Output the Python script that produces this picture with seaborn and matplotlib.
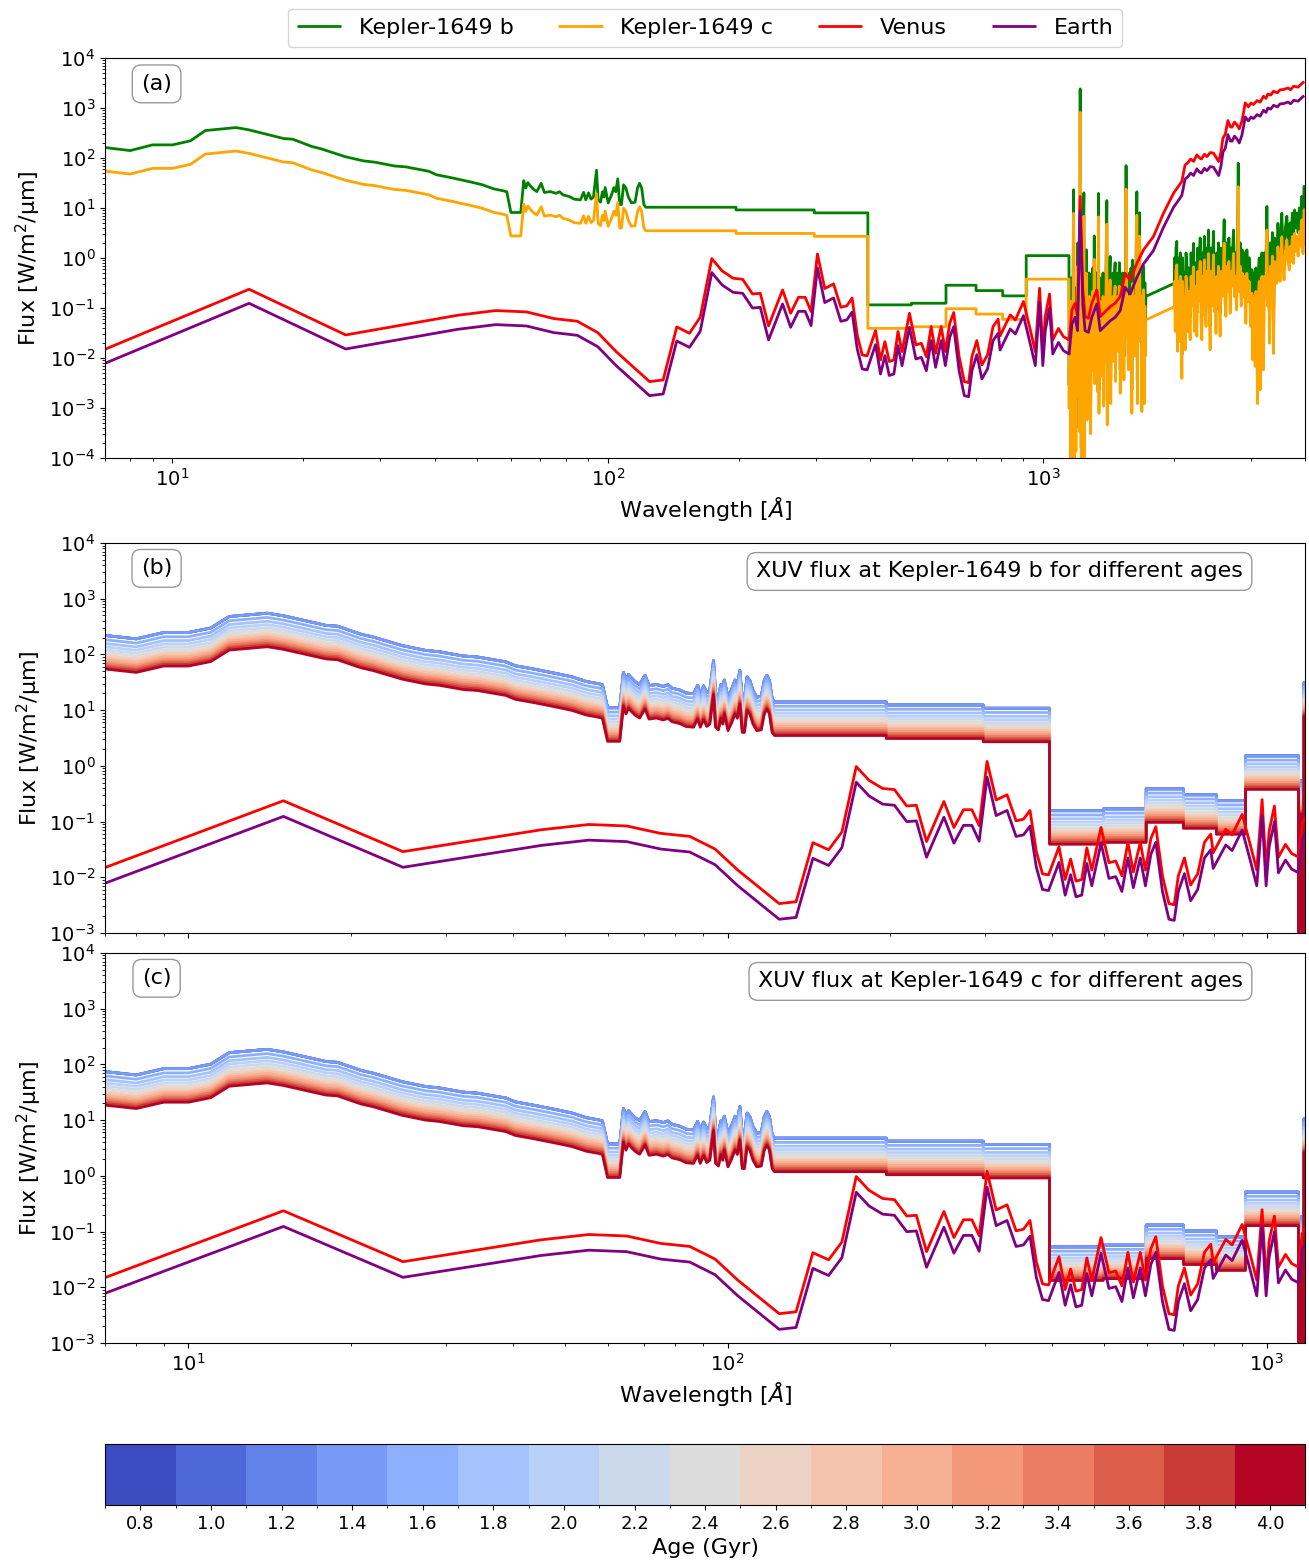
import numpy as np
import pandas as pd
import matplotlib
matplotlib.use("Agg")
import matplotlib.pyplot as plt
import seaborn as sns
from matplotlib.colors import ListedColormap, BoundaryNorm
from matplotlib.cm import ScalarMappable
from matplotlib.ticker import LogLocator, NullFormatter

# ---- data (wavelength in Angstrom, flux in W/m^2/um) ----
# Kepler-1649 b spectrum, split in pieces
kep_wl_soft = [
    7.0, 8.0, 9.0, 10.0, 11.0, 11.9, 14.0, 15.0,
    18.0, 18.9, 20.9, 22.0, 24.9, 27.5, 29.2, 32.3,
    34.4, 38.8, 40.4, 43.8, 48.4, 51.5, 54.7, 57.5,
    58.6, 59.9, 63.1, 64.1, 64.8, 65.5, 66.4, 67.5,
    68.7, 70.3, 71.5, 73.8, 76.0, 77.5, 78.9, 81.5,
    83.8, 86.5, 88.0, 89.0, 90.3, 91.5, 92.7, 94.2,
    95.0, 96.2, 97.2, 98.0, 98.6, 100.2, 101.8, 103.3,
    104.3, 105.4, 106.5, 107.5, 108.7, 110.0, 111.5, 113.3,
    115.5, 117.0, 118.3, 119.6, 121.0, 122.2]
kep_flux_soft = [
    161, 140, 182, 182, 219, 352, 404, 363,
    244, 236, 169, 151, 106, 87, 82, 69,
    66, 54, 46, 40, 33, 29, 24, 22,
    21, 8.1, 8.1, 35, 25, 32, 27.5, 23.6,
    21.2, 31, 20.3, 21.2, 19.6, 21, 18.2, 16.9,
    14.9, 14.5, 20.5, 14.5, 20, 15, 16.5, 56.6,
    14.5, 13, 21, 16.5, 25.5, 12.6, 17.5, 25.5,
    21, 38, 11.7, 11.7, 29, 25, 16.5, 12.6,
    13, 25, 31, 25, 11.7, 10.3]

kep_wl_euv = [197.0, 197.0, 298.0, 298.0, 395.6, 395.6, 498.0, 498.0, 598.0,
              598.0, 701.0, 701.0, 807.0, 807.0, 914.0, 914.0, 1146.0]
kep_flux_euv = [10.3, 9.1, 9.1, 7.95, 7.95, 0.115, 0.115, 0.124, 0.124,
                0.284, 0.284, 0.222, 0.222, 0.174, 0.174, 1.11, 1.11]

kep_wl_fuv = [
    1147, 1150, 1153, 1157, 1160, 1164, 1167, 1171, 1174, 1177,
    1181, 1185, 1189, 1193, 1197, 1201, 1205, 1209, 1213, 1216,
    1219, 1223, 1227, 1231, 1235, 1240, 1244, 1248, 1252, 1256,
    1261, 1265, 1270, 1275, 1280, 1285, 1290, 1295, 1300, 1305,
    1310, 1313, 1318, 1323, 1328, 1334, 1340, 1343, 1349, 1355,
    1361, 1367, 1372, 1376, 1382, 1388, 1394, 1400, 1403, 1409,
    1415, 1420, 1425, 1429, 1435, 1441, 1447, 1453, 1458, 1463,
    1466, 1472, 1478, 1484, 1490, 1496, 1503, 1509, 1515, 1521,
    1527, 1533, 1540, 1545, 1550, 1555, 1562, 1570, 1577, 1584,
    1591, 1598, 1604, 1611, 1618, 1625, 1632, 1641, 1645, 1652,
    1658, 1664, 1670, 1677, 1685, 1692, 1700, 1706, 1712, 1717,
    1721, 2000]
kep_flux_fuv = [
    2.9e-3, 0.25, 0.063, 2.0e-4, 0.40, 0.01, 2.0e-4, 0.2, 23, 0.1,
    1.6e-4, 0.25, 4e-4, 0.13, 5e-3, 2.0, 0.025, 0.32, 1e-3, 2400,
    0.5, 1.6e-4, 0.32, 0.016, 3.2, 20, 2.5e-4, 0.25, 0.0126, 1.45,
    1.7e-3, 0.4, 0.032, 0.5, 5e-3, 9e-4, 0.32, 0.05, 0.63, 0.016,
    2.75, 9e-3, 0.32, 0.04, 0.5, 6.3e-3, 19.5, 2.3e-3, 0.4, 0.032,
    0.25, 0.0126, 0.5, 3.2e-3, 0.32, 0.025, 0.63, 14, 1.35e-3, 0.4,
    0.05, 0.5, 1.07, 3.6e-3, 0.4, 0.063, 0.5, 0.025, 0.5, 0.8,
    0.01, 0.4, 0.063, 0.5, 0.04, 0.8, 5.8e-3, 0.4, 0.08, 0.5,
    0.032, 0.0107, 0.5, 0.1, 70, 0.32, 0.063, 0.017, 0.5, 0.1,
    0.63, 2.3e-3, 0.9, 0.08, 0.5, 0.032, 0.4, 21, 3.6e-3, 0.5,
    0.063, 8, 0.1, 0.5, 2.5e-3, 0.4, 0.68, 3.6e-3, 0.32, 0.032,
    0.17, 0.31]

kep_wl_nuv = [
    2004, 2010, 2018, 2027, 2034, 2042, 2050, 2058, 2066, 2074,
    2082, 2090, 2100, 2110, 2119, 2128, 2138, 2147, 2157, 2166,
    2176, 2186, 2195, 2205, 2214, 2224, 2234, 2244, 2254, 2264,
    2274, 2284, 2294, 2304, 2314, 2324, 2334, 2345, 2355, 2366,
    2376, 2387, 2397, 2408, 2418, 2430, 2440, 2450, 2461, 2472,
    2483, 2494, 2505, 2516, 2527, 2538, 2549, 2560, 2575, 2590,
    2604, 2615, 2628, 2641, 2655, 2670, 2688, 2700, 2715, 2736,
    2750, 2765, 2780, 2795, 2805, 2815, 2834, 2850, 2865, 2880,
    2900, 2920, 2936, 2955, 2975, 2995, 3015, 3030, 3050, 3068,
    3080, 3095, 3106, 3120, 3135, 3150, 3165, 3180, 3195, 3206,
    3220, 3240, 3255, 3264, 3280, 3295, 3309, 3325, 3345, 3360,
    3380, 3400, 3420, 3440, 3460, 3480, 3500, 3532, 3550, 3575,
    3600, 3627, 3650, 3675, 3691, 3710, 3735, 3757, 3780, 3800,
    3824, 3850, 3875, 3900, 3926, 3950, 3975, 3990, 4000]
kep_flux_nuv = [
    1.0, 0.1, 1.58, 2.14, 0.04, 1.0, 0.16, 0.063, 1.26, 0.25,
    0.0115, 1.0, 0.1, 0.5, 0.043, 1.26, 0.78, 0.1, 0.63, 0.126,
    0.068, 1.26, 0.32, 0.63, 1.95, 0.1, 0.8, 0.2, 0.08, 1.58,
    0.4, 1.0, 2.5, 0.16, 0.068, 1.26, 0.5, 2.7, 0.25, 0.126,
    1.58, 0.5, 3.6, 0.2, 0.043, 1.58, 0.32, 1.0, 3.4, 0.25,
    0.5, 0.091, 1.26, 0.4, 2.0, 0.32, 0.08, 1.58, 0.5, 1.26,
    5.8, 0.4, 0.2, 2.0, 0.63, 2.5, 0.23, 1.58, 0.8, 3.6,
    0.5, 1.26, 0.27, 1.58, 78, 0.63, 2.0, 0.32, 1.45, 0.5,
    1.26, 0.145, 1.45, 0.4, 1.0, 0.126, 0.58, 0.027, 0.5, 0.02,
    0.63, 0.063, 0.0036, 0.5, 1.0, 0.0068, 0.63, 1.26, 0.1, 0.017,
    1.26, 0.5, 2.0, 10.7, 0.32, 1.0, 0.058, 2.0, 0.5, 3.2,
    0.036, 2.5, 1.26, 0.91, 4.9, 2.0, 1.0, 7.8, 2.0, 1.07,
    4.0, 6.8, 2.5, 1.7, 5.0, 2.5, 7.9, 2.3, 9.1, 4.0,
    7.9, 3.2, 10, 5.0, 17, 3.6, 27, 5.6, 10]

# Kepler-1649 c gets the same spectrum, diluted by this factor
kepler_c_dilution = 2.95

# solar spectrum at Venus
venus_wl_xuv = [
    7.0, 15.0, 25.0, 45.2, 55.3, 65.0, 75.2, 85.1, 94.8, 104.5,
    124.7, 134.0, 144.0, 154.0, 163.0, 173.3, 183.0, 194.0, 204.0, 215.0,
    224.0, 234.0, 252.0, 263.0, 274.0, 284.0, 293.0, 303.0, 315.0, 330.0,
    343.0, 354.0, 364.0, 374.0, 384.0, 394.0, 412.0, 423.0, 433.0, 443.0,
    454.0, 464.0, 474.0, 493.0, 510.0, 525.0, 539.0, 553.0, 566.0, 583.0,
    596.0, 610.0, 623.0, 641.0, 659.0, 674.0, 686.0, 704.0, 723.0, 745.0,
    767.0, 788.0]
venus_flux_xuv = [
    0.0149, 0.236, 0.0288, 0.0713, 0.0885, 0.0832, 0.0612, 0.0541, 0.0321, 0.0134,
    0.00336, 0.00363, 0.0417, 0.0311, 0.065, 0.97, 0.55, 0.392, 0.374, 0.19,
    0.196, 0.0437, 0.229, 0.0782, 0.163, 0.163, 0.0845, 1.2, 0.244, 0.302,
    0.103, 0.11, 0.158, 0.0288, 0.0115, 0.011, 0.0352, 0.0091, 0.0212, 0.0085,
    0.0091, 0.0337, 0.0134, 0.0782, 0.0182, 0.0196, 0.0106, 0.0424, 0.0124, 0.0424,
    0.0134, 0.0493, 0.0807, 0.0106, 0.00336, 0.00321, 0.0106, 0.0222, 0.00724, 0.0115,
    0.0424, 0.0593]

venus_wl_uv = [
    796, 840, 863, 901, 934, 959, 981, 998, 1011, 1034,
    1052, 1084, 1113, 1147, 1164, 1184, 1199, 1216, 1233, 1248,
    1270, 1293, 1328, 1352, 1376, 1426, 1463, 1503, 1543, 1584,
    1641, 1700, 1791, 1889, 1992, 2081, 2118, 2150, 2180, 2215,
    2254, 2285, 2310, 2345, 2377, 2420, 2462, 2500, 2529, 2560,
    2587, 2620, 2656, 2690, 2713, 2750, 2786, 2820, 2858, 2885,
    2910, 2960, 3000, 3042, 3100, 3150, 3206, 3250, 3280, 3330,
    3381, 3450, 3500, 3566, 3650, 3700, 3760, 3850, 3900, 3975]
venus_flux_uv = [
    0.0275, 0.0724, 0.0575, 0.134, 0.0363, 0.0134, 0.247, 0.0134, 0.0671, 0.19,
    0.0229, 0.0389, 0.0267, 0.0229, 0.0912, 0.124, 0.0671, 16.9, 0.229, 0.0671,
    0.0621, 0.124, 0.229, 0.0671, 0.0782, 0.106, 0.124, 0.169, 0.493, 0.363,
    0.782, 1.45, 2.67, 7.82, 19.6, 33.7, 72.4, 80, 95, 85,
    115, 100, 95, 118, 106, 128, 124, 100, 84.5, 130,
    247, 300, 558, 420, 410, 520, 457, 380, 533, 800,
    1260, 1050, 1250, 1170, 1400, 1300, 1710, 1550, 1900, 1800,
    2150, 2000, 2300, 2330, 2500, 2300, 2710, 2600, 2900, 3370]

# Earth receives the Venus flux divided by this
venus_to_earth = 1.91

# stellar ages and the XUV scaling relative to panel (a)
ages = [0.8, 1.0, 1.2, 1.4, 1.6, 1.8, 2.0, 2.2, 2.4,
        2.6, 2.8, 3.0, 3.2, 3.4, 3.6, 3.8, 4.0]
age_scale = [1.36, 1.36, 1.36, 1.36, 1.14, 0.975, 0.85, 0.75, 0.67,
             0.60, 0.545, 0.50, 0.455, 0.42, 0.39, 0.365, 0.34]

for a, b in [(kep_wl_soft, kep_flux_soft), (kep_wl_euv, kep_flux_euv),
             (kep_wl_fuv, kep_flux_fuv), (kep_wl_nuv, kep_flux_nuv),
             (venus_wl_xuv, venus_flux_xuv), (venus_wl_uv, venus_flux_uv)]:
    assert len(a) == len(b), (len(a), len(b))

wl_kep = np.array(kep_wl_soft + kep_wl_euv + kep_wl_fuv + kep_wl_nuv, dtype=float)
flux_b = np.array(kep_flux_soft + kep_flux_euv + kep_flux_fuv + kep_flux_nuv, dtype=float)
flux_c = flux_b / kepler_c_dilution
wl_sun = np.array(venus_wl_xuv + venus_wl_uv, dtype=float)
flux_venus = np.array(venus_flux_xuv + venus_flux_uv, dtype=float)
flux_earth = flux_venus / venus_to_earth

# ---- style ----
sns.set_style("ticks", {"axes.edgecolor": "black", "xtick.color": "black",
                        "ytick.color": "black", "text.color": "black",
                        "axes.labelcolor": "black"})
plt.rcParams['font.family'] = ['DejaVu Sans']
plt.rcParams['xtick.labelsize'] = 14
plt.rcParams['ytick.labelsize'] = 14
plt.rcParams['axes.labelsize'] = 16
plt.rcParams['lines.solid_capstyle'] = 'butt'

age_colors = plt.cm.coolwarm(np.linspace(0, 1, len(ages)))
box = dict(boxstyle='round,pad=0.4', facecolor='white', edgecolor='0.6', linewidth=1)
LW = 2.0


def draw_line(ax, wl, flux, color, label=None):
    sns.lineplot(x=wl, y=flux, color=color, lw=LW, estimator=None, sort=False,
                 label=label, legend=False, ax=ax)


def setup_axes(ax, xmax, ymin):
    ax.set_xscale('log')
    ax.set_yscale('log')
    ax.set_xlim(7, xmax)
    ax.set_ylim(ymin, 1e4)
    ax.yaxis.set_major_locator(LogLocator(base=10, numticks=20))
    ax.yaxis.set_minor_locator(LogLocator(base=10, subs=np.arange(2, 10), numticks=20))
    ax.yaxis.set_minor_formatter(NullFormatter())
    ax.set_ylabel('Flux [W/m$^2$/µm]')
    ax.set_xlabel('')


def draw_ages(ax, base_flux, title):
    frames = []
    for a, s in zip(ages, age_scale):
        frames.append(pd.DataFrame({'wl': wl_kep, 'flux': base_flux * s,
                                    'age': f'{a:.1f}'}))
    df = pd.concat(frames, ignore_index=True)
    order = [f'{a:.1f}' for a in ages]
    sns.lineplot(data=df, x='wl', y='flux', hue='age', hue_order=order,
                 palette=dict(zip(order, age_colors)), estimator=None,
                 sort=False, lw=LW, legend=False, ax=ax)
    draw_line(ax, wl_sun, flux_venus, 'red')
    draw_line(ax, wl_sun, flux_earth, 'purple')
    ax.text(0.948, 0.927, title, transform=ax.transAxes, ha='right', va='center',
            fontsize=16, bbox=box)


fig = plt.figure(figsize=(13.09, 15.64), dpi=100)
ax_a = fig.add_axes([0.0802, 0.7072, 0.917, 0.2558])
ax_b = fig.add_axes([0.0802, 0.4035, 0.917, 0.2493])
ax_c = fig.add_axes([0.0802, 0.1413, 0.917, 0.2494])
cax = fig.add_axes([0.0802, 0.0377, 0.917, 0.039])

# (a) all four spectra
setup_axes(ax_a, 4000, 1e-4)
draw_line(ax_a, wl_kep, flux_b, 'green', 'Kepler-1649 b')
draw_line(ax_a, wl_kep, flux_c, 'orange', 'Kepler-1649 c')
draw_line(ax_a, wl_sun, flux_venus, 'red', 'Venus')
draw_line(ax_a, wl_sun, flux_earth, 'purple', 'Earth')
setup_axes(ax_a, 4000, 1e-4)
ax_a.set_xlabel(r'Wavelength [$\AA$]')
ax_a.legend(loc='lower center', bbox_to_anchor=(0.5, 1.0), ncol=4, fontsize=16,
            frameon=True, borderaxespad=0.5)

# (b) and (c) age sequences
draw_ages(ax_b, flux_b, 'XUV flux at Kepler-1649 b for different ages')
setup_axes(ax_b, 1180, 1e-3)
ax_b.tick_params(labelbottom=False)

draw_ages(ax_c, flux_c, 'XUV flux at Kepler-1649 c for different ages')
setup_axes(ax_c, 1180, 1e-3)
ax_c.set_xlabel(r'Wavelength [$\AA$]')

for ax, tag in [(ax_a, '(a)'), (ax_b, '(b)'), (ax_c, '(c)')]:
    ax.text(0.043, 0.935, tag, transform=ax.transAxes, ha='center', va='center',
            fontsize=16, bbox=box)

# colorbar for ages
edges = np.concatenate([[ages[0] - 0.1], np.array(ages) + 0.1])
cmap = ListedColormap(age_colors)
norm = BoundaryNorm(edges, cmap.N)
cbar = fig.colorbar(ScalarMappable(norm=norm, cmap=cmap), cax=cax,
                    orientation='horizontal', ticks=ages)
cbar.ax.set_xticklabels([f'{a:.1f}' for a in ages])
cbar.ax.tick_params(labelsize=13)
cbar.set_label('Age (Gyr)', fontsize=16)

fig.savefig('out.png', dpi=100)
